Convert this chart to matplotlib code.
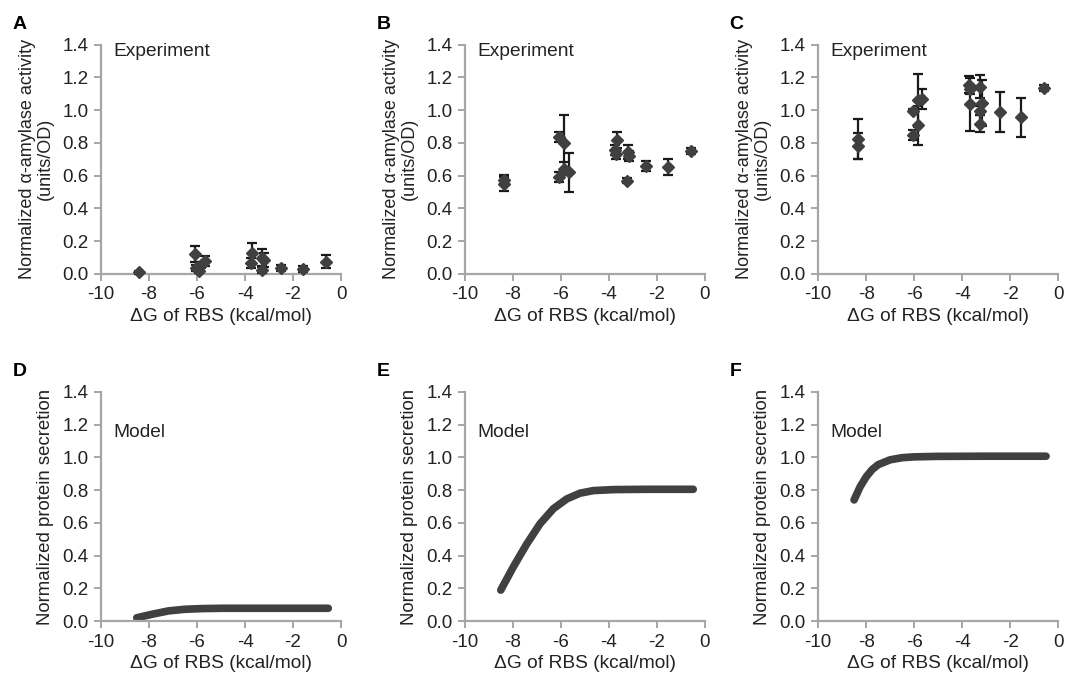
import matplotlib
matplotlib.use("Agg")
import matplotlib.pyplot as plt
import numpy as np

plt.rcParams['font.family'] = ['Liberation Sans', 'DejaVu Sans']
plt.rcParams['axes.unicode_minus'] = False

# ---- experiment data ----
# panel A
a_x = [-8.4, -6.08, -6.03, -5.92, -5.85, -5.67, -3.7, -3.76, -3.3, -3.2, -3.28, -2.49, -1.58, -0.61]
a_y = [0.01, 0.12, 0.035, 0.015, 0.055, 0.08, 0.125, 0.065, 0.10, 0.085, 0.025, 0.035, 0.03, 0.075]
a_e = [0.01, 0.05, 0.02, 0.01, 0.02, 0.03, 0.065, 0.03, 0.05, 0.04, 0.02, 0.02, 0.02, 0.04]

# panel B
b_x = [-8.36, -8.36, -6.07, -5.86, -6.07, -5.86, -5.65, -3.71, -3.67, -3.73, -3.22, -3.15, -3.23, -2.46, -1.55, -0.58]
b_y = [0.575, 0.55, 0.837, 0.80, 0.59, 0.643, 0.62, 0.735, 0.82, 0.755, 0.745, 0.72, 0.568, 0.657, 0.653, 0.75]
b_e = [0.03, 0.045, 0.03, 0.17, 0.03, 0.04, 0.12, 0.03, 0.05, 0.03, 0.04, 0.03, 0.015, 0.03, 0.05, 0.02]

# panel C
c_x = [-8.35, -8.35, -6.06, -6.06, -5.83, -5.83, -5.67, -3.72, -3.65, -3.65, -3.24, -3.19, -3.24, -3.24, -2.44, -1.54, -0.57]
c_y = [0.825, 0.78, 0.998, 0.85, 1.06, 0.908, 1.07, 1.157, 1.127, 1.035, 1.143, 1.045, 0.998, 0.918, 0.99, 0.957, 1.137]
c_e = [0.12, 0.08, 0.01, 0.03, 0.16, 0.12, 0.06, 0.05, 0.03, 0.16, 0.07, 0.14, 0.03, 0.05, 0.12, 0.12, 0.02]

# ---- model curves ----
d_x = [-8.51, -7.89, -7.19, -6.5, -5.8, -5.0, -4.0, -3.0, -2.0, -1.0, -0.53]
d_y = [0.02, 0.041, 0.062, 0.072, 0.076, 0.078, 0.078, 0.078, 0.078, 0.078, 0.078]

e_x = [-8.51, -7.99, -7.43, -6.875, -6.32, -5.76, -5.21, -4.65, -3.82, -2.43, -0.49]
e_y = [0.189, 0.33, 0.47, 0.594, 0.686, 0.746, 0.781, 0.797, 0.803, 0.805, 0.805]

f_x = [-8.5, -8.25, -8.0, -7.75, -7.5, -7.0, -6.5, -6.0, -5.0, -3.0, -0.5]
f_y = [0.74, 0.82, 0.88, 0.925, 0.955, 0.985, 0.998, 1.003, 1.006, 1.007, 1.007]

exp_data = [(a_x, a_y, a_e), (b_x, b_y, b_e), (c_x, c_y, c_e)]
model_data = [(d_x, d_y), (e_x, e_y), (f_x, f_y)]
letters = ["A", "B", "C", "D", "E", "F"]

dark = "#404040"
spine = "#a6a6a6"
txt = "#222222"
fs = 13.8

fig = plt.figure(figsize=(10.68, 6.78), dpi=100)

lefts = [0.0946, 0.4354, 0.766]
bottoms = [0.596, 0.084]
w, h = 0.2247, 0.338


def style(ax):
    ax.set_xlim(-10, 0)
    ax.set_ylim(0, 1.4)
    ax.set_xticks(range(-10, 1, 2))
    ax.set_yticks(np.arange(0, 1.41, 0.2))
    ax.set_yticklabels(["%.1f" % v for v in np.arange(0, 1.41, 0.2)])
    for s in ["top", "right"]:
        ax.spines[s].set_visible(False)
    for s in ["left", "bottom"]:
        ax.spines[s].set_color(spine)
        ax.spines[s].set_linewidth(1.6)
    ax.tick_params(direction="out", length=5, width=1.4, color=spine,
                   labelsize=13.5, labelcolor=txt, pad=4)
    ax.set_xlabel("ΔG of RBS (kcal/mol)", fontsize=fs, color=txt, labelpad=3)


for i, (x, y, e) in enumerate(exp_data):
    ax = fig.add_axes([lefts[i], bottoms[0], w, h])
    style(ax)
    ax.errorbar(x, y, yerr=e, fmt="D", color=dark, ms=6.5, ecolor="#1a1a1a",
                elinewidth=1.6, capsize=3.5, capthick=1.6, clip_on=False, zorder=3)
    ax.set_ylabel("Normalized α-amylase activity\n(units/OD)", fontsize=13.0,
                  color=txt, labelpad=6, linespacing=1.05)
    ax.text(-9.5, 1.41, "Experiment", fontsize=fs, va="top", ha="left", color=txt)
    fig.text(lefts[i] - 0.083, 0.957, letters[i], fontsize=14, fontweight="bold")

for i, (x, y) in enumerate(model_data):
    ax = fig.add_axes([lefts[i], bottoms[1], w, h])
    style(ax)
    ax.plot(x, y, color=dark, lw=5.5, solid_capstyle="round")
    ax.set_ylabel("Normalized protein secretion", fontsize=13.4, color=txt, labelpad=6)
    ax.text(-9.5, 1.15, "Model", fontsize=fs, va="center", ha="left", color=txt)
    fig.text(lefts[i] - 0.083, 0.445, letters[i + 3], fontsize=14, fontweight="bold")

fig.savefig("out.png", dpi=100)
